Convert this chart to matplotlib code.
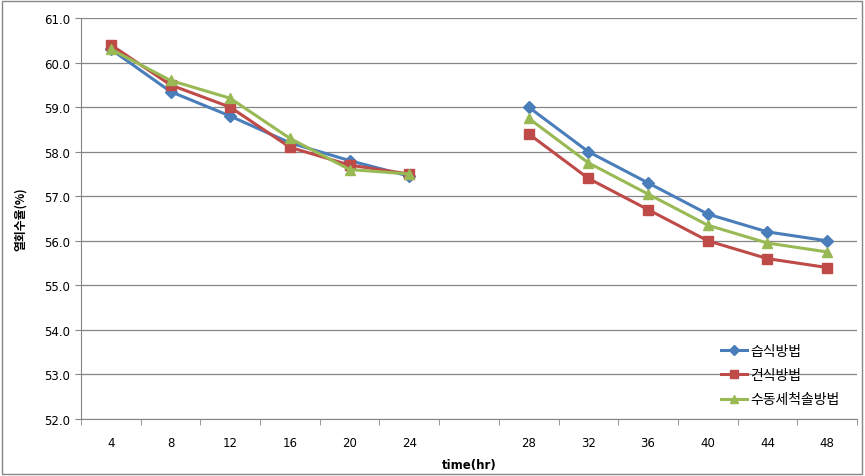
import numpy as np
import matplotlib
matplotlib.use("agg")
import matplotlib.pyplot as plt
from matplotlib.patches import Rectangle

plt.rcParams['font.family'] = ['Noto Sans CJK KR', 'DejaVu Sans']

# categories: an empty slot separates the two runs
categories = ['4', '8', '12', '16', '20', '24', '', '28', '32', '36', '40', '44', '48']
nan = np.nan
wet = [60.3, 59.35, 58.8, 58.2, 57.8, 57.45, nan, 59.0, 58.0, 57.3, 56.6, 56.2, 56.0]
dry = [60.4, 59.5, 59.0, 58.1, 57.7, 57.5, nan, 58.4, 57.4, 56.7, 56.0, 55.6, 55.4]
manual = [60.3, 59.6, 59.2, 58.3, 57.6, 57.5, nan, 58.75, 57.75, 57.05, 56.35, 55.95, 55.75]
names = ['습식방법', '건식방법', '수동세척솔방법']

fig = plt.figure(figsize=(8.65, 4.77), dpi=100)
ax = fig.add_axes([0.0936, 0.1195, 0.8972, 0.8405])

x = np.arange(len(categories))
ax.plot(x, wet, color='#4A7EBB', lw=2.2, marker='D', ms=6, label=names[0])
ax.plot(x, dry, color='#BE4B48', lw=2.2, marker='s', ms=7, label=names[1])
ax.plot(x, manual, color='#98B954', lw=2.2, marker='^', ms=7.5, label=names[2])

ax.set_xlim(-0.5, len(categories) - 0.5)
ax.set_ylim(52, 61)
ax.set_yticks(np.arange(52, 61.5, 1.0))
ax.set_yticklabels(['%.1f' % v for v in np.arange(52, 61.5, 1.0)],
                   family=['DejaVu Sans'], fontsize=8.5)
ax.set_xticks(x)
ax.set_xticklabels(categories, family=['DejaVu Sans'], fontsize=8.5)
ax.set_xticks(np.arange(-0.5, len(categories) + 0.5, 1), minor=True)
ax.tick_params(axis='x', which='major', length=0, pad=12)
ax.tick_params(axis='x', which='minor', length=4, color='#868686')
ax.tick_params(axis='y', length=4, color='#868686', pad=4)

ax.grid(axis='y', color='#868686', lw=0.9)
ax.set_axisbelow(True)
for s in ['top', 'right']:
    ax.spines[s].set_visible(False)
for s in ['left', 'bottom']:
    ax.spines[s].set_color('#868686')

ax.set_ylabel('열회수율(%)', fontsize=8.5, fontweight='bold', labelpad=12)
ax.set_xlabel('time(hr)', fontsize=8.5, fontweight='bold', family=['DejaVu Sans'], labelpad=7)

leg = ax.legend(loc='lower right', bbox_to_anchor=(0.993, 0.0), frameon=False,
                fontsize=10, handlelength=1.9, handletextpad=0.2, labelspacing=0.75,
                markerscale=0.8)

fig.patches.append(Rectangle((0.002, 0.005), 0.994, 0.99, transform=fig.transFigure,
                             fill=False, edgecolor='#868686', lw=1))

fig.savefig('out.png', dpi=100)
plt.close(fig)
